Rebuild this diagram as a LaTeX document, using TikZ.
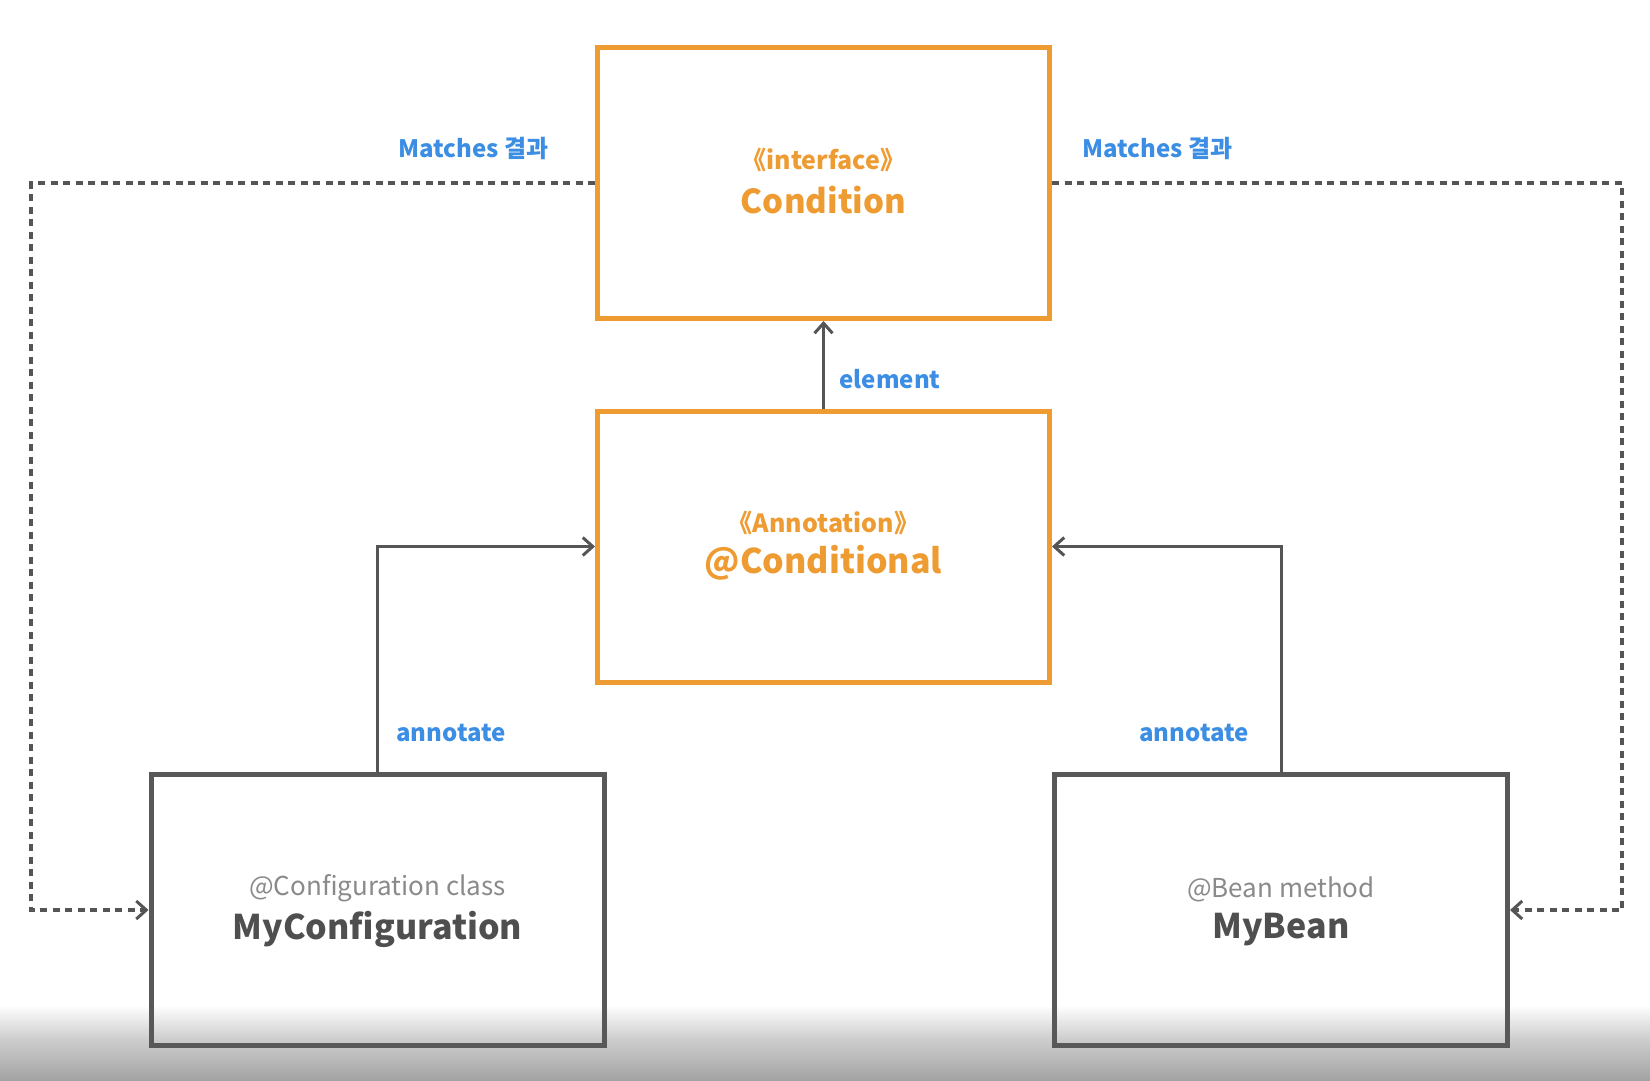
\documentclass[tikz,border=0pt]{standalone}
\usepackage{fontspec}
\setmainfont{Noto Sans CJK KR}
\usetikzlibrary{arrows.meta}
\definecolor{orng}{HTML}{EE9B32}
\definecolor{blu}{HTML}{3B8EE3}
\definecolor{boxgray}{HTML}{585858}
\definecolor{subgray}{HTML}{8A8A8A}
\definecolor{darktxt}{HTML}{4F4F4F}
\definecolor{linegray}{HTML}{555555}
\tikzset{
  obox/.style={draw=orng, line width=5pt, minimum width=452pt, minimum height=271pt, inner sep=0pt},
  gbox/.style={draw=boxgray, line width=5pt, minimum width=453pt, minimum height=271pt, inner sep=0pt},
  tip/.style={-{Straight Barb[length=10pt,width=18pt,line width=3pt]}},
  arr/.style={draw=linegray, line width=3pt, tip},
  darr/.style={draw=linegray, line width=3.4pt, dash pattern=on 7pt off 5.5pt, tip},
  lbl/.style={text=blu, font=\bfseries\fontsize{24}{28}\selectfont, inner sep=0pt},
  otitle/.style={text=orng, font=\bfseries\fontsize{33}{38}\selectfont, inner sep=0pt},
  otitleb/.style={text=orng, font=\bfseries\fontsize{34}{38}\selectfont, inner sep=0pt},
  osub/.style={text=orng, font=\bfseries\fontsize{25}{28}\selectfont, inner sep=0pt},
  gtitle/.style={text=darktxt, font=\bfseries\fontsize{34}{38}\selectfont, inner sep=0pt},
  gsub/.style={text=subgray, font=\fontsize{26}{29}\selectfont, inner sep=0pt},
}
\begin{document}
\begin{tikzpicture}[x=1pt,y=-1pt]
\useasboundingbox (0,0) rectangle (1650,1080);
\fill[white] (0,0) rectangle (1650,1080);
\shade[top color=white, bottom color=white!80!black] (0,1005) rectangle (1650,1040);
\shade[top color=white!80!black, bottom color=white!64!black] (0,1040) rectangle (1650,1080);

% boxes
\node[obox] (condition) at (823.5,183) {};
\node[obox] (conditional) at (823.5,546.5) {};
\node[gbox] (myconf) at (377.5,910) {};
\node[gbox] (mybean) at (1281,910) {};

% box texts
\node[osub] (t1a) at (823.5,160) {《interface》};
\node[otitle] (t1b) at (823.5,200) {Condition};
\node[osub] (t2a) at (823.5,523) {《Annotation》};
\node[otitleb] (t2b) at (823.5,563) {@Conditional};
\node[gsub] (t3a) at (377.5,888) {@Configuration class};
\node[gtitle] (t3b) at (377.5,929) {MyConfiguration};
\node[gsub] (t4a) at (1281,889) {@Bean method};
\node[gtitle] (t4b) at (1281,930) {MyBean};

% connectors
\draw[arr] (conditional.north) -- (condition.south);
\draw[arr] (myconf.north) |- (conditional.west);
\draw[arr] (mybean.north) |- (conditional.east);
\coordinate (lc) at (31,183);
\coordinate (rc) at (1622,183);
\draw[darr] (condition.west) -- (lc) |- (myconf.west);
\draw[darr] (condition.east) -- (rc) |- (mybean.east);

% labels
\node[lbl] (m1) at (473.5,148) {Matches 결과};
\node[lbl] (m2) at (1157.5,148) {Matches 결과};
\node[lbl] (el) at (890,379) {element};
\node[lbl] (an1) at (451,733) {annotate};
\node[lbl] (an2) at (1194,733) {annotate};
\end{tikzpicture}
\end{document}
